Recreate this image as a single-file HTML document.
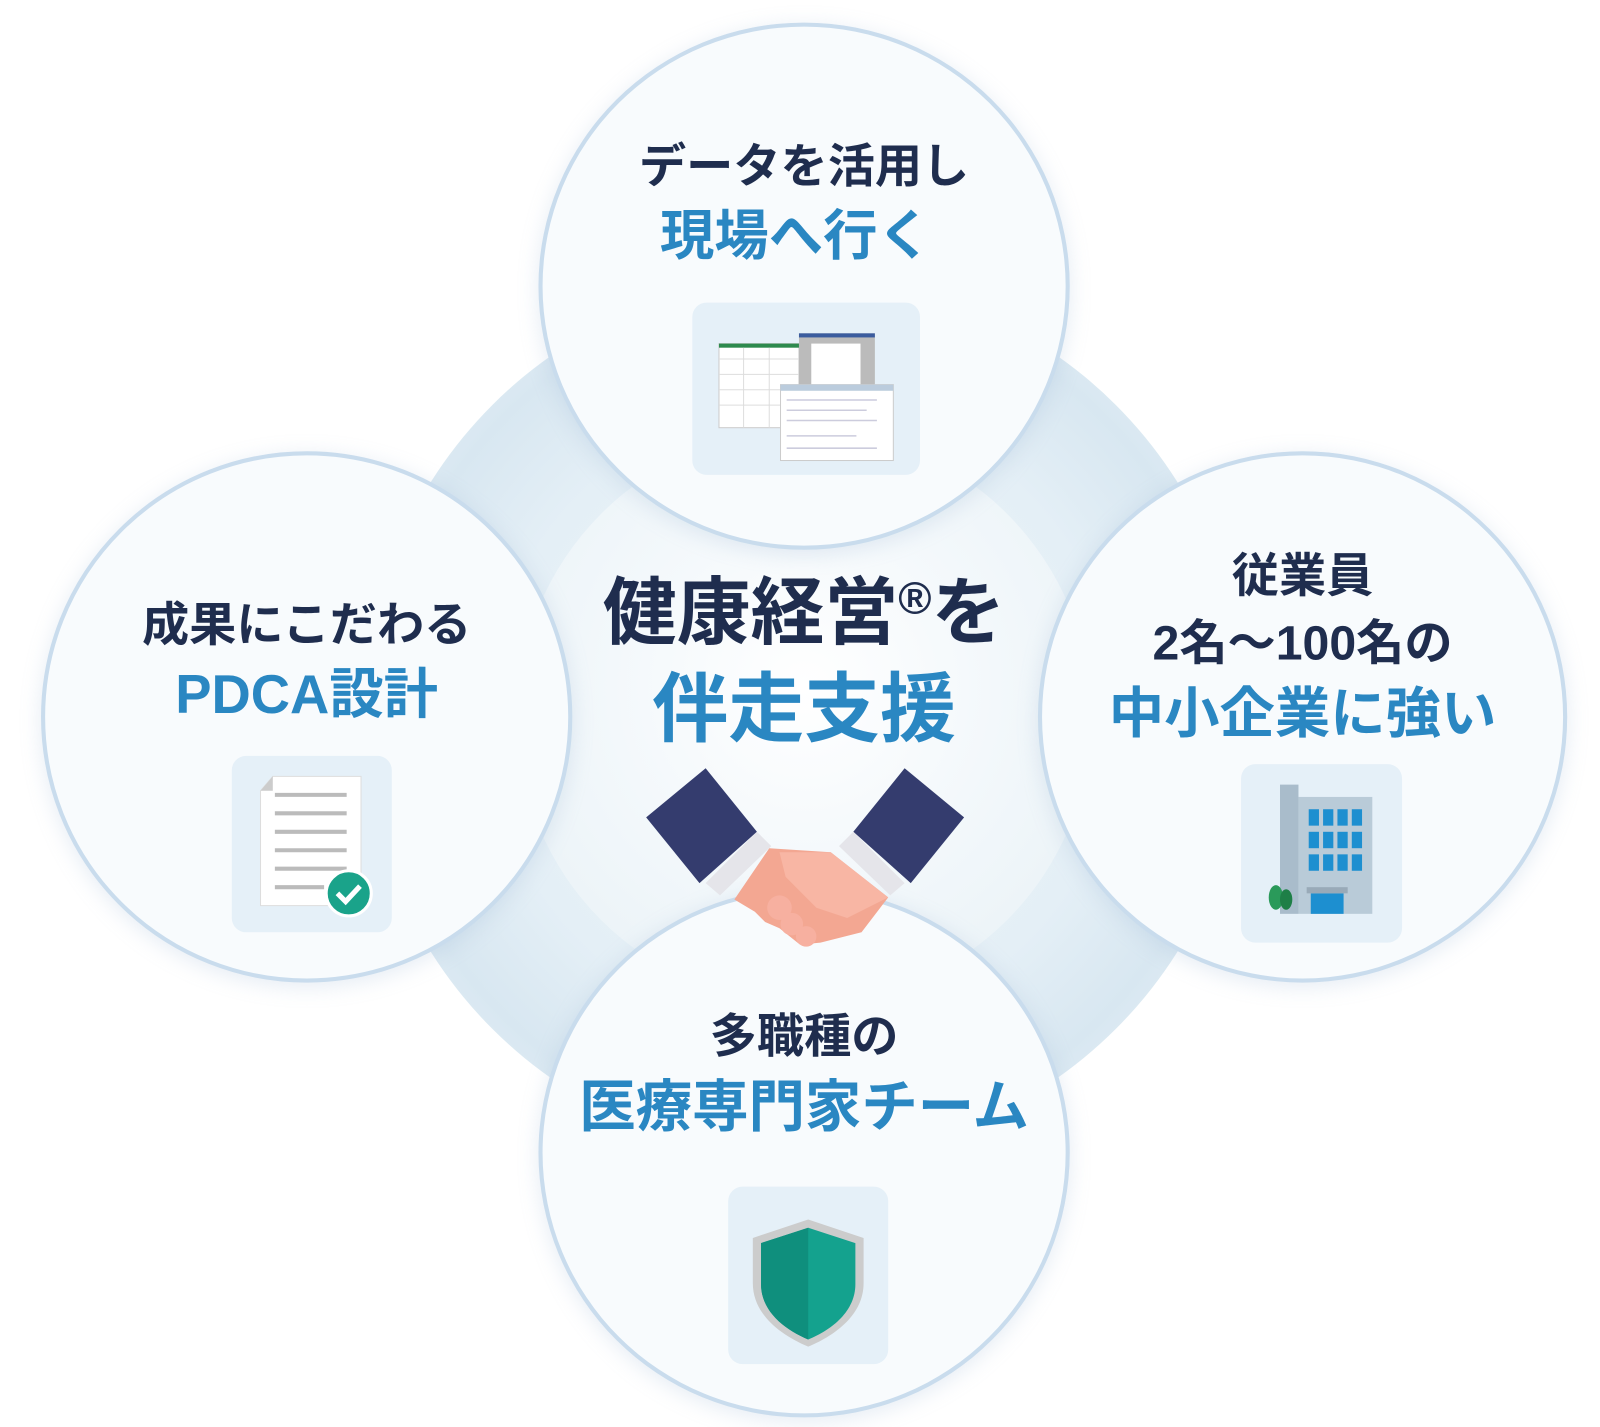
<!DOCTYPE html>
<html><head><meta charset="utf-8"><style>
html,body{margin:0;padding:0;background:#fff;width:1600px;height:1427px;overflow:hidden}
#w{position:absolute;left:0;top:0;width:1560px;height:1391px;transform:scale(1.02564);transform-origin:0 0;font-family:"Liberation Sans","Noto Sans CJK JP",sans-serif;font-weight:700}
.c{position:absolute;border-radius:50%;background:#f8fbfd;border:4px solid #c9dced;box-sizing:border-box;box-shadow:0 4px 20px rgba(150,180,210,.25)}
.t{position:absolute;left:0;width:100%;text-align:center;white-space:nowrap;line-height:1}
.d{color:#1f2d4e}.b{color:#2a87c2}
.box{position:absolute;background:#e5f0f8;border-radius:14px}
</style></head><body><div id="w">
<div style="position:absolute;left:354px;top:269px;width:860px;height:860px;border-radius:50%;background:radial-gradient(circle,#eef5f9 0,#e4eff6 50%,#d8e7f1 68%,#fbfdfe 100%)"></div>
<div style="position:absolute;left:504px;top:419px;width:560px;height:560px;border-radius:50%;background:radial-gradient(circle at 50% 45%,#ffffff 0,#f3f8fb 45%,#e6f0f5 100%)"></div>

<div class="c" style="left:525px;top:22px;width:518px;height:514px">
 <div class="t d" style="top:113px;font-size:46px">データを活用し</div>
 <div class="t b" style="top:178px;font-size:53px;left:-8px">現場へ行く</div>
 <div class="box" style="left:146px;top:269px;width:222px;height:168px">
  <svg width="222" height="168"><rect x="26" y="40" width="78" height="82" fill="#fff" stroke="#ccc"/><rect x="26" y="40" width="78" height="4" fill="#2d8a4e"/>
  <g stroke="#ddd"><line x1="26" y1="55" x2="104" y2="55"/><line x1="26" y1="70" x2="104" y2="70"/><line x1="26" y1="85" x2="104" y2="85"/><line x1="26" y1="100" x2="104" y2="100"/><line x1="50" y1="44" x2="50" y2="122"/><line x1="75" y1="44" x2="75" y2="122"/></g>
  <rect x="104" y="30" width="74" height="60" fill="#bbb"/><rect x="104" y="30" width="74" height="4" fill="#3b5c9e"/><rect x="116" y="40" width="48" height="50" fill="#fff"/>
  <rect x="86" y="80" width="110" height="74" fill="#fff" stroke="#ccc"/><rect x="86" y="80" width="110" height="6" fill="#bcd"/>
  <g stroke="#ccd" stroke-width="1.5"><line x1="92" y1="95" x2="180" y2="95"/><line x1="92" y1="105" x2="170" y2="105"/><line x1="92" y1="115" x2="180" y2="115"/><line x1="92" y1="130" x2="160" y2="130"/><line x1="92" y1="142" x2="180" y2="142"/></g></svg>
 </div>
</div>

<div class="c" style="left:40px;top:440px;width:518px;height:518px">
 <div class="t d" style="top:142px;font-size:46px">成果にこだわる</div>
 <div class="t b" style="top:207px;font-size:53px">PDCA設計</div>
 <div class="box" style="left:182px;top:293px;width:156px;height:172px">
  <svg width="156" height="172"><path d="M40 20h86v126h-98V34z" fill="#fff" stroke="#ddd"/><path d="M28 34l12-14v14z" fill="#ccc"/>
  <g stroke="#bbb" stroke-width="4"><line x1="42" y1="38" x2="112" y2="38"/><line x1="42" y1="56" x2="112" y2="56"/><line x1="42" y1="74" x2="112" y2="74"/><line x1="42" y1="92" x2="112" y2="92"/><line x1="42" y1="110" x2="112" y2="110"/><line x1="42" y1="128" x2="90" y2="128"/></g>
  <circle cx="114" cy="134" r="22" fill="#1aa38a" stroke="#fff" stroke-width="3"/><path d="M103 134l8 8 14-15" stroke="#fff" stroke-width="5" fill="none"/></svg>
 </div>
</div>

<div class="c" style="left:1012px;top:440px;width:516px;height:518px">
 <div class="t d" style="top:94px;font-size:46px">従業員</div>
 <div class="t d" style="top:159px;font-size:47px">2名～100名の</div>
 <div class="t b" style="top:225px;font-size:54px">中小企業に強い</div>
 <div class="box" style="left:194px;top:301px;width:157px;height:174px">
  <svg width="157" height="174"><rect x="38" y="20" width="18" height="126" fill="#a9bccb"/><rect x="56" y="32" width="72" height="114" fill="#b9cbd8"/>
  <g fill="#1d8fd0"><rect x="66" y="44" width="10" height="16"/><rect x="80" y="44" width="10" height="16"/><rect x="94" y="44" width="10" height="16"/><rect x="108" y="44" width="10" height="16"/><rect x="66" y="66" width="10" height="16"/><rect x="80" y="66" width="10" height="16"/><rect x="94" y="66" width="10" height="16"/><rect x="108" y="66" width="10" height="16"/><rect x="66" y="88" width="10" height="16"/><rect x="80" y="88" width="10" height="16"/><rect x="94" y="88" width="10" height="16"/><rect x="108" y="88" width="10" height="16"/><rect x="68" y="126" width="32" height="20"/></g>
  <rect x="64" y="120" width="40" height="6" fill="#99aab8"/>
  <ellipse cx="34" cy="130" rx="7" ry="12" fill="#2a9a5a"/><ellipse cx="44" cy="132" rx="6" ry="10" fill="#1e7f47"/></svg>
 </div>
</div>

<div class="c" style="left:525px;top:866px;width:518px;height:516px">
 <div class="t d" style="top:117px;font-size:46px">多職種の</div>
 <div class="t b" style="top:182px;font-size:55px">医療専門家チーム</div>
 <div class="box" style="left:181px;top:287px;width:156px;height:173px">
  <svg width="156" height="173"><path d="M78 32l54 18v44c0 30-26 50-54 62-28-12-54-32-54-62V50z" fill="#ccc"/><path d="M78 40l46 15v40c0 26-22 44-46 54-24-10-46-28-46-54V55z" fill="#14a28e"/><path d="M78 40v109c-24-10-46-28-46-54V55z" fill="#0f8f7d"/></svg>
 </div>
</div>

<div class="t d" style="top:562px;font-size:72px;left:0;width:1568px">健康経営<span style="font-size:44px;vertical-align:24px">®</span>を</div>
<div class="t b" style="top:655px;font-size:74px;left:0;width:1568px">伴走支援</div>
<svg style="position:absolute;left:620px;top:735px" width="330" height="190">
 <path d="M10 62l58-48 50 62-56 50z" fill="#343c6e"/><path d="M320 62l-58-48-50 62 56 50z" fill="#343c6e"/>
 <path d="M68 126l50-50 14 14-50 48z" fill="#e5e5ea"/><path d="M262 126l-50-50-14 14 50 48z" fill="#e5e5ea"/>
 <path d="M96 142l34-50 60 4 56 44-26 34-40 10-20 2-20-16-14-6-10-10z" fill="#f3a792"/>
 <path d="M140 96l50 0 56 44-40 20-30-10-30-30z" fill="#f8b6a4"/>
 <circle cx="140" cy="150" r="12" fill="#f7b0a0"/><circle cx="152" cy="166" r="11" fill="#f7b0a0"/><circle cx="166" cy="178" r="10" fill="#f7b0a0"/>
</svg>
</div></body></html>
